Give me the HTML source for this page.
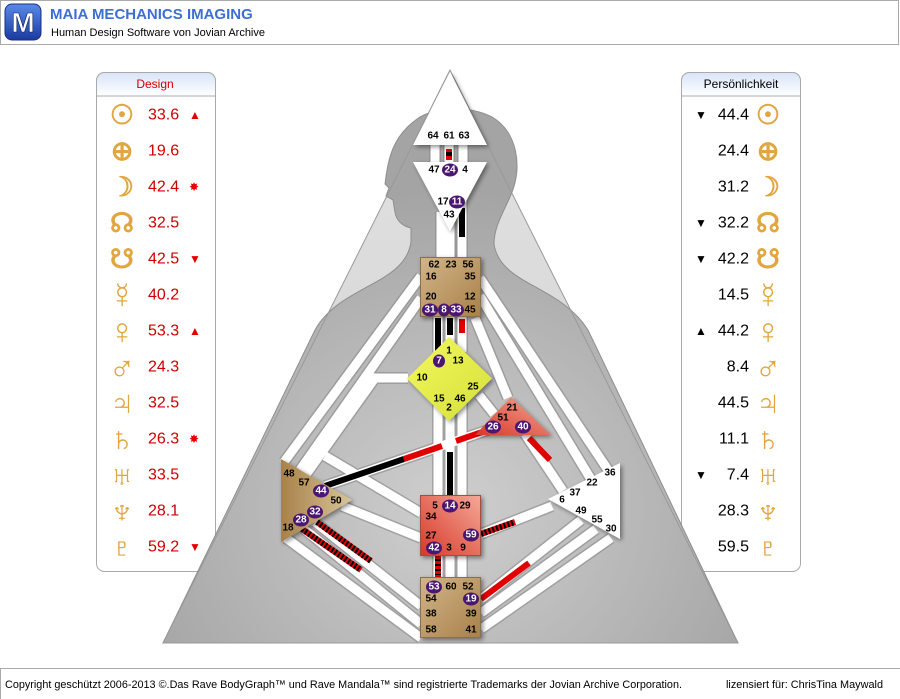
<!DOCTYPE html>
<html><head><meta charset="utf-8"><style>
html,body{margin:0;padding:0;background:#fff;}
svg{display:block;}
text{font-family:"Liberation Sans",sans-serif;}
.n{font-size:10px;font-weight:bold;fill:#000;text-anchor:middle;dominant-baseline:central;}
.c{font-size:10px;font-weight:bold;fill:#fff;text-anchor:middle;dominant-baseline:central;}
.lv{font-size:16px;fill:#cc0000;dominant-baseline:central;}
.rv{font-size:16px;fill:#000;dominant-baseline:central;text-anchor:end;}
.ic{font-family:"DejaVu Sans",sans-serif;font-size:27px;fill:#e2a640;text-anchor:middle;dominant-baseline:central;font-weight:bold;}
.ic .b{font-size:36px;}
.mk{font-family:"DejaVu Sans",sans-serif;font-size:12px;dominant-baseline:central;}
</style></head><body>
<svg width="900" height="699" viewBox="0 0 900 699" xmlns="http://www.w3.org/2000/svg">
<defs>
<linearGradient id="hd" x1="0" y1="0" x2="0" y2="1"><stop offset="0" stop-color="#d8e4f8"/><stop offset="1" stop-color="#ffffff"/></linearGradient>
<linearGradient id="bg" x1="0" y1="0" x2="0" y2="1"><stop offset="0" stop-color="#e2e2e2"/><stop offset="1" stop-color="#d0d0d0"/></linearGradient>
<radialGradient id="body" cx="0.5" cy="0.75" r="0.6"><stop offset="0" stop-color="#cfcfcf"/><stop offset="1" stop-color="#a4a4a4"/></radialGradient>
<linearGradient id="tan" x1="0" y1="0" x2="1" y2="1"><stop offset="0" stop-color="#d2b488"/><stop offset="1" stop-color="#a8814a"/></linearGradient>
<linearGradient id="tan2" x1="0" y1="0" x2="1" y2="0"><stop offset="0" stop-color="#a8814a"/><stop offset="1" stop-color="#d8c498"/></linearGradient>
<linearGradient id="red" x1="1" y1="0" x2="0" y2="1"><stop offset="0" stop-color="#f4a898"/><stop offset="1" stop-color="#d83828"/></linearGradient>
<linearGradient id="yel" x1="0" y1="0" x2="1" y2="1"><stop offset="0" stop-color="#f4f860"/><stop offset="1" stop-color="#d4e038"/></linearGradient>
<linearGradient id="logo" x1="0" y1="0" x2="0" y2="1"><stop offset="0" stop-color="#5a8ae8"/><stop offset="1" stop-color="#1a3aa0"/></linearGradient>
<filter id="sh" x="-20%" y="-20%" width="140%" height="140%"><feGaussianBlur in="SourceAlpha" stdDeviation="2.5"/><feOffset dx="2" dy="2"/><feComponentTransfer><feFuncA type="linear" slope="0.45"/></feComponentTransfer><feMerge><feMergeNode/><feMergeNode in="SourceGraphic"/></feMerge></filter>
</defs>

<rect x="0.5" y="0.5" width="898" height="44" fill="#fff" stroke="#aaa"/>
<rect x="5" y="4" width="36" height="36" rx="7" fill="url(#logo)" stroke="#1a2f80"/>
<text x="23" y="32" font-size="28" font-weight="bold" fill="#fff" text-anchor="middle" stroke="#0a1a60" stroke-width="0.6">M</text>
<text x="50" y="19" font-size="15" font-weight="bold" fill="#3d6fd2">MAIA MECHANICS IMAGING</text>
<text x="51" y="36" font-size="11" fill="#000">Human Design Software von Jovian Archive</text>

<line x1="0" y1="668.5" x2="900" y2="668.5" stroke="#aaa"/>
<line x1="0.5" y1="668" x2="0.5" y2="699" stroke="#aaa"/>
<text x="5" y="688" font-size="11" fill="#000" textLength="677" lengthAdjust="spacingAndGlyphs">Copyright geschützt 2006-2013 ©.Das Rave BodyGraph™ und Rave Mandala™ sind registrierte Trademarks der Jovian Archive Corporation.</text>
<text x="726" y="688" font-size="11" fill="#000" textLength="157" lengthAdjust="spacingAndGlyphs">lizensiert für: ChrisTina Maywald</text>

<rect x="96.5" y="72.5" width="119" height="499" rx="8" fill="#fff" stroke="#aaa"/>
<path d="M96.5 96 V80.5 a8 8 0 0 1 8 -8 H207.5 a8 8 0 0 1 8 8 V96 Z" fill="url(#hd)" stroke="#aaa"/>
<text x="155" y="84" font-size="12" fill="#d40000" text-anchor="middle" dominant-baseline="central">Design</text>
<rect x="681.5" y="72.5" width="119" height="499" rx="8" fill="#fff" stroke="#aaa"/>
<path d="M681.5 96 V80.5 a8 8 0 0 1 8 -8 H792.5 a8 8 0 0 1 8 8 V96 Z" fill="url(#hd)" stroke="#aaa"/>
<text x="741" y="84" font-size="12" fill="#000" text-anchor="middle" dominant-baseline="central">Persönlichkeit</text>

<g class="ic">
<text x="122" y="115">☉</text><text x="122" y="151">⊕</text><text x="122" y="187">☽</text><text x="122" y="223">☊</text><text x="122" y="259">☋</text><text class="b" x="122" y="295">☿</text><text class="b" x="122" y="331">♀</text><text class="b" x="122" y="367">♂</text><text class="b" x="122" y="403">♃</text><text class="b" x="122" y="439">♄</text><text class="b" x="122" y="475">♅</text><text class="b" x="122" y="511">♆</text><text class="b" x="122" y="547">♇</text>
<text x="768" y="115">☉</text><text x="768" y="151">⊕</text><text x="768" y="187">☽</text><text x="768" y="223">☊</text><text x="768" y="259">☋</text><text class="b" x="768" y="295">☿</text><text class="b" x="768" y="331">♀</text><text class="b" x="768" y="367">♂</text><text class="b" x="768" y="403">♃</text><text class="b" x="768" y="439">♄</text><text class="b" x="768" y="475">♅</text><text class="b" x="768" y="511">♆</text><text class="b" x="768" y="547">♇</text>
</g>
<g class="lv">
<text x="148" y="115">33.6</text><text x="148" y="151">19.6</text><text x="148" y="187">42.4</text><text x="148" y="223">32.5</text><text x="148" y="259">42.5</text><text x="148" y="295">40.2</text><text x="148" y="331">53.3</text><text x="148" y="367">24.3</text><text x="148" y="403">32.5</text><text x="148" y="439">26.3</text><text x="148" y="475">33.5</text><text x="148" y="511">28.1</text><text x="148" y="547">59.2</text>
</g>
<g class="mk" fill="#e00000">
<text x="189" y="115">▲</text><text x="189" y="187">✸</text><text x="189" y="259">▼</text><text x="189" y="331">▲</text><text x="189" y="439">✸</text><text x="189" y="547">▼</text>
</g>
<g class="rv">
<text x="749" y="115">44.4</text><text x="749" y="151">24.4</text><text x="749" y="187">31.2</text><text x="749" y="223">32.2</text><text x="749" y="259">42.2</text><text x="749" y="295">14.5</text><text x="749" y="331">44.2</text><text x="749" y="367">8.4</text><text x="749" y="403">44.5</text><text x="749" y="439">11.1</text><text x="749" y="475">7.4</text><text x="749" y="511">28.3</text><text x="749" y="547">59.5</text>
</g>
<g class="mk" fill="#000">
<text x="695" y="115">▼</text><text x="695" y="223">▼</text><text x="695" y="259">▼</text><text x="695" y="331">▲</text><text x="695" y="475">▼</text>
</g>

<polygon points="450,70 163,643 738,643" fill="url(#bg)"/>
<path d="M411,242 L411,228 C402,226 396,220 395,212 L393,200 L386,196 L389,188 L385,184 C388,160 392,135 420,117 C440,106 470,106 492,117 C518,132 522,168 512,192 C504,212 494,226 494,244 C500,285 560,285 588,330 L738,643 L163,643 L315,330 C340,285 405,285 411,242 Z" fill="url(#body)" stroke="#8e8e8e" stroke-width="1"/>
<polygon points="450,70 163,643 738,643" fill="none" stroke="#999" stroke-width="1"/>

<g stroke-linecap="butt" fill="none">
<g stroke="#8a8a8a" stroke-width="12" opacity="0.6">
<path d="M435,144V162M449,144V162M463,144V162M441,212V257M450,222V257M462,200V257M438,316V352M450,316V345M462,316V352M438,400V496M450,415V496M462,400V496M438,556V577M450,556V577M462,556V577"/>
<path d="M421,276L284,462M421,298L300,470M408,378H375L305,476M325,456L421,513M342,506L421,538M286,538L421,638M304,529L421,624M315,522L421,606"/>
<path d="M480,278L608,470M480,296L592,481M475,318L508,398M479,395L494,414M525,434L563,491M488,430L325,486M481,534L552,506M481,599L581,520M481,613L596,529M481,629L611,538"/>
</g>
<g stroke="#fff" stroke-width="9">
<path d="M435,144V162M449,144V162M463,144V162M441,212V257M450,222V257M462,200V257M438,316V352M450,316V345M462,316V352M438,400V496M450,415V496M462,400V496M438,556V577M450,556V577M462,556V577"/>
<path d="M421,276L284,462M421,298L300,470M408,378H375L305,476M325,456L421,513M342,506L421,538M286,538L421,638M304,529L421,624M315,522L421,606"/>
<path d="M480,278L608,470M480,296L592,481M475,318L508,398M479,395L494,414M525,434L563,491M488,430L325,486M481,534L552,506M481,599L581,520M481,613L596,529M481,629L611,538"/>
</g>
<g stroke-width="6">
<path d="M449,149V160" stroke="#e00000"/>
<path d="M449,152V156" stroke="#000"/>
<path d="M462,208V237" stroke="#000"/>
<path d="M438,318V352" stroke="#000"/>
<path d="M450,318V335" stroke="#000"/>
<path d="M462,319V333" stroke="#e00000"/>
<path d="M450,452V496" stroke="#000"/>
<path d="M325,486L404,459" stroke="#000"/>
<path d="M404,459L442,446M456,441L488,430" stroke="#e00000"/>
<path d="M529,438L550,460" stroke="#e00000"/>
<path d="M481,599L529,563" stroke="#e00000"/>
<path d="M438,556V577" stroke="#e00000"/>
<path d="M438,559V575" stroke="#000" stroke-dasharray="2,3"/>
<path d="M481,534L515,522M302,529L361,570M317,522L371,561" stroke="#e00000"/>
<path d="M481,534L515,522M302,529L361,570M317,522L371,561" stroke="#000" stroke-dasharray="2,2"/>
</g>
</g>

<g filter="url(#sh)">
<polygon points="450,72 487,145 413,145" fill="#fff"/>
<polygon points="413,162 487,162 450,231" fill="#fff"/>
<rect x="420.5" y="257.5" width="60" height="59" fill="url(#tan)" stroke="#8a7050" stroke-width="1"/>
<polygon points="449,337 492,378.5 449,421 407,378.5" fill="url(#yel)"/>
<polygon points="511,397 551,435 475,435" fill="url(#red)"/>
<polygon points="281,459 352,500 281,542" fill="url(#tan2)"/>
<rect x="420.5" y="495.5" width="60" height="60" fill="url(#red)" stroke="#a05040" stroke-width="1"/>
<polygon points="620,463 620,539 548,499" fill="#fff"/>
<rect x="420.5" y="577.5" width="60" height="60" fill="url(#tan)" stroke="#8a7050" stroke-width="1"/>
</g>

<g class="n">
<text x="433" y="136">64</text><text x="449" y="136">61</text><text x="464" y="136">63</text>
<text x="434" y="170">47</text><text x="465" y="170">4</text>
<text x="443" y="202">17</text><text x="449" y="215">43</text>
<text x="434" y="265">62</text><text x="451" y="265">23</text><text x="468" y="265">56</text>
<text x="431" y="277">16</text><text x="470" y="277">35</text>
<text x="431" y="297">20</text><text x="470" y="297">12</text><text x="470" y="310">45</text>
<text x="449" y="351">1</text><text x="458" y="361">13</text><text x="422" y="378">10</text><text x="473" y="387">25</text>
<text x="439" y="399">15</text><text x="460" y="399">46</text><text x="449" y="408">2</text>
<text x="512" y="408">21</text><text x="503" y="418">51</text>
<text x="289" y="474">48</text><text x="304" y="483">57</text><text x="336" y="501">50</text><text x="288" y="528">18</text>
<text x="435" y="506">5</text><text x="465" y="506">29</text><text x="431" y="517">34</text><text x="431" y="536">27</text>
<text x="449" y="548">3</text><text x="463" y="548">9</text>
<text x="610" y="473">36</text><text x="592" y="483">22</text><text x="575" y="493">37</text><text x="562" y="500">6</text>
<text x="581" y="511">49</text><text x="597" y="520">55</text><text x="611" y="529">30</text>
<text x="451" y="587">60</text><text x="468" y="587">52</text><text x="431" y="599">54</text>
<text x="431" y="614">38</text><text x="471" y="614">39</text><text x="431" y="630">58</text><text x="471" y="630">41</text>
</g>
<g fill="#4a1670">
<ellipse cx="450" cy="170" rx="8" ry="6.5"/><ellipse cx="457" cy="202" rx="8" ry="6.5"/>
<ellipse cx="430" cy="310" rx="8" ry="6.5"/><ellipse cx="444" cy="310" rx="6" ry="6.5"/><ellipse cx="456" cy="310" rx="8" ry="6.5"/>
<ellipse cx="439" cy="361" rx="6" ry="6.5"/>
<ellipse cx="493" cy="427" rx="8" ry="6.5"/><ellipse cx="523" cy="427" rx="8" ry="6.5"/>
<ellipse cx="321" cy="491" rx="8" ry="6.5"/><ellipse cx="315" cy="512" rx="8" ry="6.5"/><ellipse cx="301" cy="520" rx="8" ry="6.5"/>
<ellipse cx="450" cy="506" rx="8" ry="6.5"/><ellipse cx="471" cy="535" rx="8" ry="6.5"/><ellipse cx="434" cy="548" rx="8" ry="6.5"/>
<ellipse cx="434" cy="587" rx="8" ry="6.5"/><ellipse cx="471" cy="599" rx="8" ry="6.5"/>
</g>
<g class="c">
<text x="450" y="170">24</text><text x="457" y="202">11</text>
<text x="430" y="310">31</text><text x="444" y="310">8</text><text x="456" y="310">33</text>
<text x="439" y="361">7</text>
<text x="493" y="427">26</text><text x="523" y="427">40</text>
<text x="321" y="491">44</text><text x="315" y="512">32</text><text x="301" y="520">28</text>
<text x="450" y="506">14</text><text x="471" y="535">59</text><text x="434" y="548">42</text>
<text x="434" y="587">53</text><text x="471" y="599">19</text>
</g>
</svg>
</body></html>
